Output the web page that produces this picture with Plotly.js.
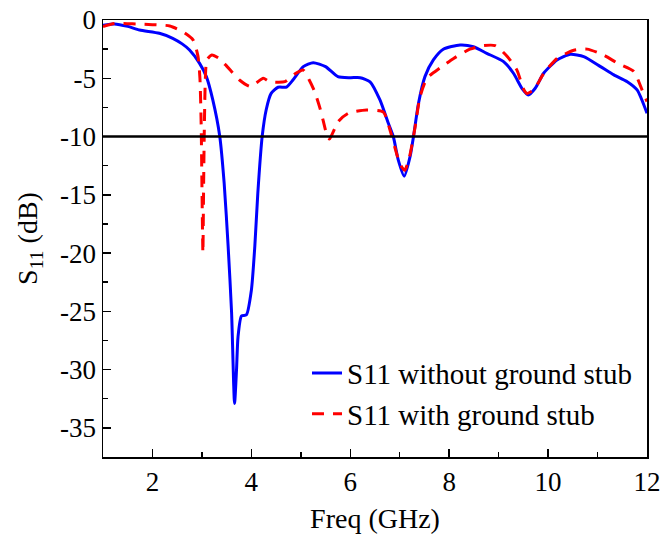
<!DOCTYPE html>
<html>
<head>
<meta charset="utf-8">
<script src="https://cdn.plot.ly/plotly-3.0.1.min.js"></script>
<style>html,body{margin:0;padding:0;background:#fff;}</style>
</head>
<body>
<div id="chart" style="width:664px;height:536px;"></div>
<script>
// Frequency (GHz) and S11 (dB) — without ground stub
const freqWithout = [1.0, 1.23, 1.5, 1.74, 2.14, 2.41, 2.6, 2.75, 2.95, 3.09, 3.22, 3.36, 3.45, 3.53, 3.6, 3.66, 3.7, 3.73, 3.8, 3.9, 4.0, 4.07, 4.13, 4.22, 4.3, 4.4, 4.54, 4.71, 4.84, 5.05, 5.25, 5.5, 5.75, 6.0, 6.2, 6.4, 6.6, 6.77, 6.87, 6.97, 7.09, 7.21, 7.28, 7.38, 7.51, 7.68, 7.88, 8.22, 8.49, 8.76, 9.1, 9.3, 9.47, 9.6, 9.74, 9.91, 10.18, 10.45, 10.72, 11.06, 11.33, 11.6, 11.8, 12.0];
const s11Without = [-0.45, -0.34, -0.55, -0.86, -1.14, -1.57, -2.05, -2.57, -3.7, -4.86, -6.86, -9.95, -14.0, -19.4, -25.1, -32.9, -30.0, -27.2, -25.4, -25.3, -23.2, -19.4, -14.9, -9.95, -7.7, -6.3, -5.77, -5.75, -5.15, -4.0, -3.66, -4.0, -4.86, -4.95, -4.95, -5.3, -6.86, -8.86, -10.0, -12.0, -13.4, -11.7, -9.95, -7.15, -4.86, -3.43, -2.51, -2.14, -2.29, -2.86, -3.57, -4.57, -5.86, -6.43, -5.86, -4.57, -3.43, -2.94, -3.14, -4.0, -4.71, -5.29, -6.0, -8.0];

// Frequency (GHz) and S11 (dB) — with ground stub
const freqWith = [1.0, 1.23, 1.67, 2.0, 2.35, 2.61, 2.82, 2.92, 2.96, 2.985, 3.0, 3.02, 3.035, 3.05, 3.07, 3.1, 3.2, 3.35, 3.51, 3.76, 3.97, 4.1, 4.24, 4.37, 4.68, 4.88, 5.05, 5.17, 5.28, 5.39, 5.45, 5.55, 5.58, 5.76, 5.96, 6.33, 6.67, 6.8, 6.9, 7.0, 7.1, 7.2, 7.31, 7.41, 7.55, 7.82, 8.09, 8.42, 8.69, 8.93, 9.17, 9.37, 9.5, 9.57, 9.71, 9.91, 10.18, 10.52, 10.79, 11.12, 11.4, 11.73, 11.9, 12.0];
const s11With = [-0.57, -0.3, -0.34, -0.4, -0.51, -1.0, -1.7, -3.1, -5.0, -9.0, -14.0, -20.0, -14.0, -9.0, -5.0, -3.43, -3.0, -3.3, -4.0, -5.15, -5.7, -5.4, -5.0, -5.29, -5.29, -4.63, -4.3, -5.15, -6.15, -7.6, -8.6, -10.15, -10.2, -8.7, -8.0, -7.72, -7.9, -9.4, -10.9, -12.3, -12.9, -11.7, -9.2, -6.6, -5.0, -4.1, -3.3, -2.5, -2.2, -2.2, -3.1, -4.3, -5.9, -6.3, -6.0, -4.6, -3.3, -2.6, -2.5, -3.0, -3.7, -4.4, -6.0, -7.0];

const seriesNames = ['S11 without ground stub', 'S11 with ground stub'];
const refLevel = -10;
const xTicks = [2, 4, 6, 8, 10, 12];
const yTicks = [0, -5, -10, -15, -20, -25, -30, -35];

const FONT = 'Liberation Serif, "Times New Roman", Times, serif';

const traces = [
  {
    x: freqWithout, y: s11Without, name: seriesNames[0], type: 'scatter', mode: 'lines',
    line: {color: 'rgb(0,0,255)', width: 3, shape: 'spline', smoothing: 0.6}
  },
  {
    x: freqWith, y: s11With, name: seriesNames[1], type: 'scatter', mode: 'lines',
    line: {color: 'rgb(255,0,0)', width: 3, dash: '12px,9px', shape: 'spline', smoothing: 0.6}
  }
];

const axisCommon = {
  showgrid: false, zeroline: false, showline: true, mirror: true,
  linecolor: '#000', linewidth: 1.5,
  ticks: 'inside', ticklen: 8, tickwidth: 1.5, tickcolor: '#000',
  tickfont: {family: FONT, size: 27, color: '#000'}
};

const layout = {
  width: 664, height: 536,
  margin: {l: 103, r: 17, t: 20, b: 79},
  paper_bgcolor: '#fff', plot_bgcolor: '#fff',
  font: {family: FONT, color: '#000'},
  showlegend: true,
  legend: {
    x: 0.375, y: 0.25, xanchor: 'left', yanchor: 'top',
    bgcolor: 'rgba(0,0,0,0)', borderwidth: 0,
    font: {family: FONT, size: 29, color: '#000'},
    tracegroupgap: 0
  },
  xaxis: Object.assign({}, axisCommon, {
    range: [1, 12], tickmode: 'array', tickvals: xTicks, ticktext: xTicks.map(String),
    minor: {dtick: 1, tick0: 1, ticks: 'inside', ticklen: 5, tickwidth: 1.5, tickcolor: '#000'},
    title: {text: 'Freq (GHz)', font: {family: FONT, size: 28, color: '#000'}, standoff: 12}
  }),
  yaxis: Object.assign({}, axisCommon, {
    range: [-37.5, 0], tickmode: 'array', tickvals: yTicks, ticktext: yTicks.map(String),
    minor: {dtick: 2.5, tick0: 0, ticks: 'inside', ticklen: 5, tickwidth: 1.5, tickcolor: '#000'},
    title: {text: 'S<sub>11</sub> (dB)', font: {family: FONT, size: 28, color: '#000'}, standoff: 14}
  }),
  shapes: [{
    type: 'line', xref: 'paper', yref: 'y', x0: 0, x1: 1, y0: refLevel, y1: refLevel,
    line: {color: '#000', width: 2.5}, layer: 'above'
  }]
};

Plotly.newPlot('chart', traces, layout, {displayModeBar: false, staticPlot: true});
</script>
</body>
</html>
